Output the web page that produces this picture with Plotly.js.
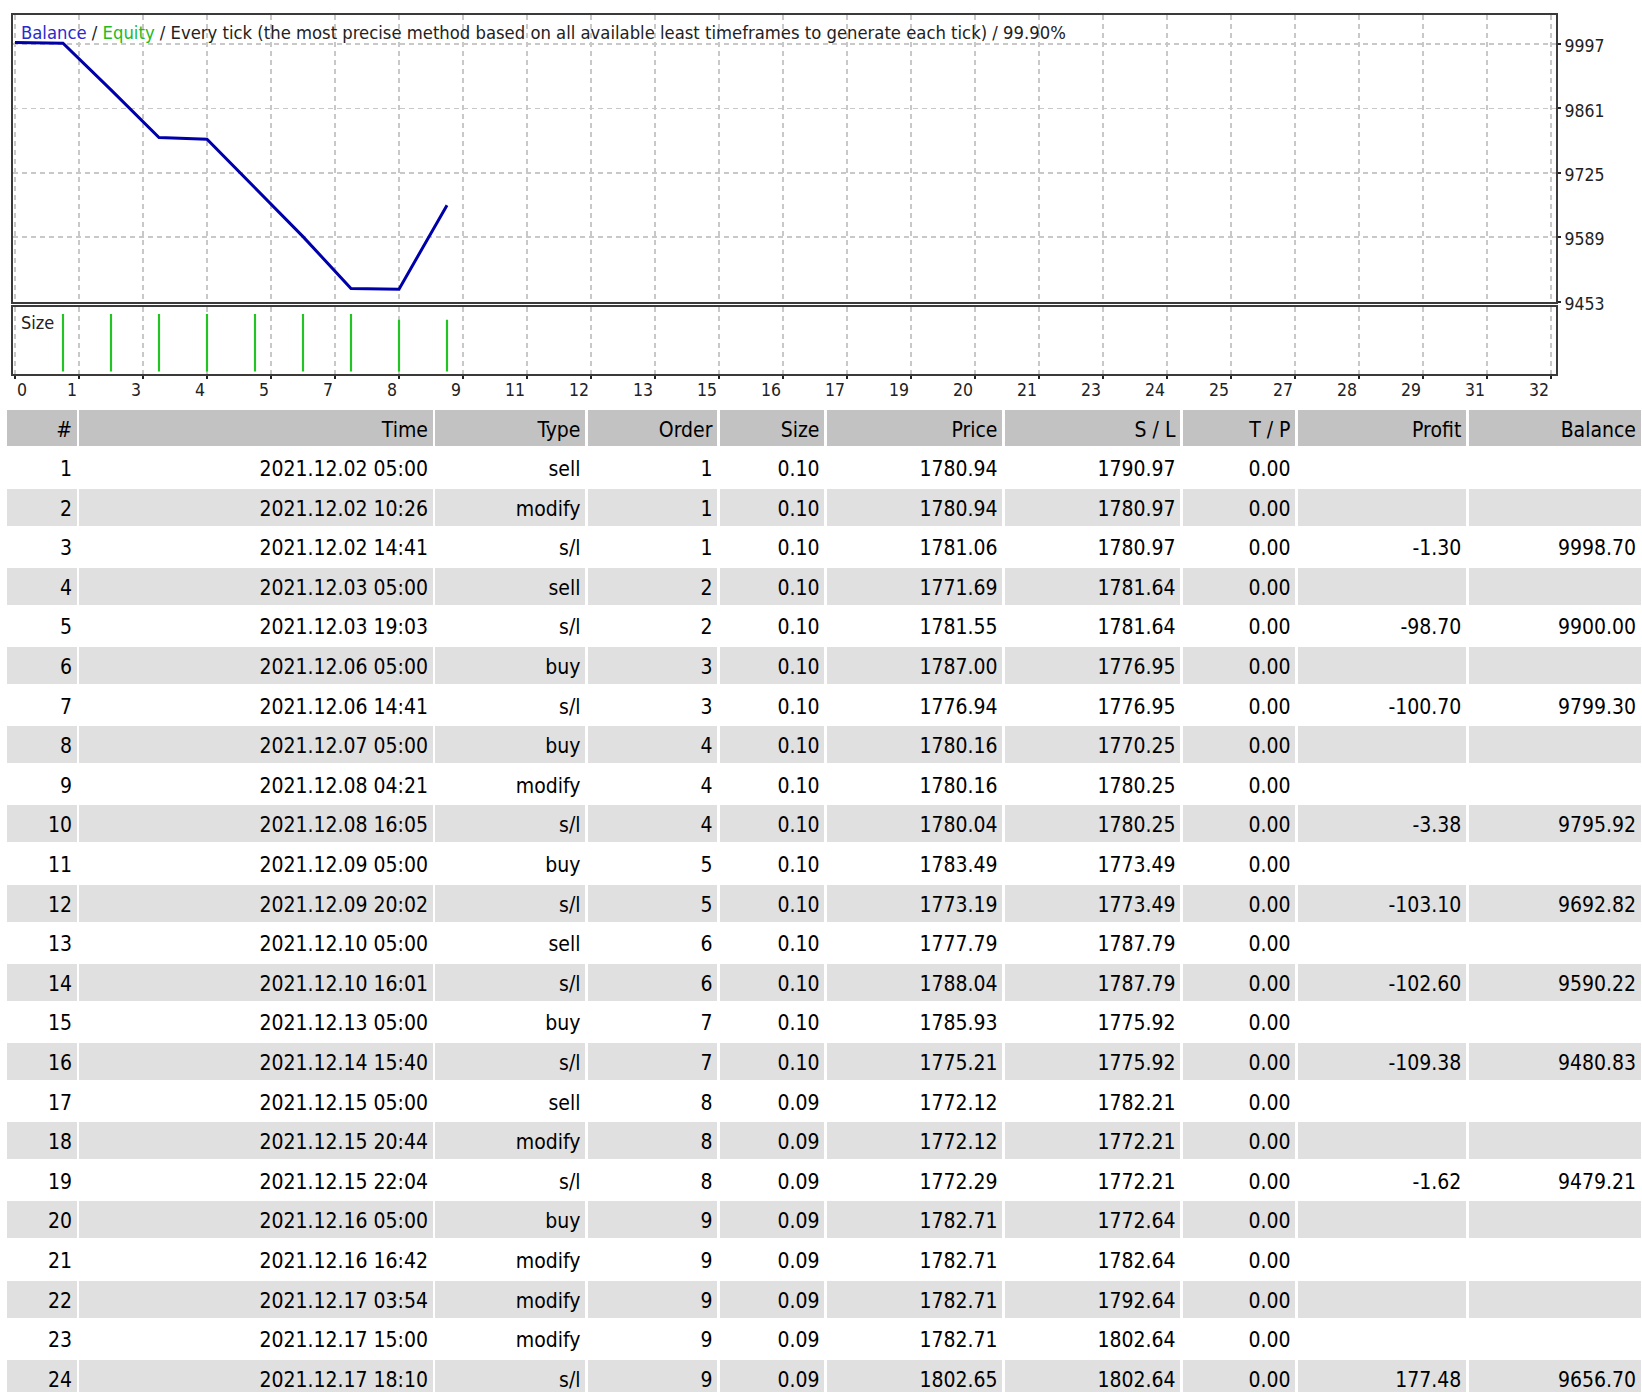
<!DOCTYPE html>
<html>
<head>
<meta charset="utf-8">
<script src="https://cdn.plot.ly/plotly-3.0.1.min.js"></script>
<style>
html,body{margin:0;padding:0;overflow:hidden;background:#fff;}
#chart{width:1642px;height:1400px;}
#chart .cell-text{transform:translate(2px,4.5px);}
</style>
</head>
<body>
<div id="chart"></div>
<script>
// ---------- chart data ----------
const tradeIndex = [0, 1, 2, 3, 4, 5, 6, 7, 8, 9];
const balanceCurve = [10000.00, 9998.70, 9900.00, 9799.30, 9795.92, 9692.82, 9590.22, 9480.83, 9479.21, 9656.70];
const sizeTradeNo = [1, 2, 3, 4, 5, 6, 7, 8, 9];
const sizeValues = [0.10, 0.10, 0.10, 0.10, 0.10, 0.10, 0.10, 0.09, 0.09];
const yTickVals = [9453, 9589, 9725, 9861, 9997];
const xTickLabels = ['0','1','3','4','5','7','8','9','11','12','13','15','16','17','19','20','21','23','24','25','27','28','29','31','32'];
const xTickStep = 4 / 3;

// ---------- table data ----------
const tblHeader = ['#', 'Time', 'Type', 'Order', 'Size', 'Price', 'S / L', 'T / P', 'Profit', 'Balance'];
const colNo = ['1','2','3','4','5','6','7','8','9','10','11','12','13','14','15','16','17','18','19','20','21','22','23','24'];
const colTime = ['2021.12.02 05:00','2021.12.02 10:26','2021.12.02 14:41','2021.12.03 05:00','2021.12.03 19:03','2021.12.06 05:00','2021.12.06 14:41','2021.12.07 05:00','2021.12.08 04:21','2021.12.08 16:05','2021.12.09 05:00','2021.12.09 20:02','2021.12.10 05:00','2021.12.10 16:01','2021.12.13 05:00','2021.12.14 15:40','2021.12.15 05:00','2021.12.15 20:44','2021.12.15 22:04','2021.12.16 05:00','2021.12.16 16:42','2021.12.17 03:54','2021.12.17 15:00','2021.12.17 18:10'];
const colType = ['sell','modify','s/l','sell','s/l','buy','s/l','buy','modify','s/l','buy','s/l','sell','s/l','buy','s/l','sell','modify','s/l','buy','modify','modify','modify','s/l'];
const colOrder = ['1','1','1','2','2','3','3','4','4','4','5','5','6','6','7','7','8','8','8','9','9','9','9','9'];
const colSize = ['0.10','0.10','0.10','0.10','0.10','0.10','0.10','0.10','0.10','0.10','0.10','0.10','0.10','0.10','0.10','0.10','0.09','0.09','0.09','0.09','0.09','0.09','0.09','0.09'];
const colPrice = ['1780.94','1780.94','1781.06','1771.69','1781.55','1787.00','1776.94','1780.16','1780.16','1780.04','1783.49','1773.19','1777.79','1788.04','1785.93','1775.21','1772.12','1772.12','1772.29','1782.71','1782.71','1782.71','1782.71','1802.65'];
const colSL = ['1790.97','1780.97','1780.97','1781.64','1781.64','1776.95','1776.95','1770.25','1780.25','1780.25','1773.49','1773.49','1787.79','1787.79','1775.92','1775.92','1782.21','1772.21','1772.21','1772.64','1782.64','1792.64','1802.64','1802.64'];
const colTP = ['0.00','0.00','0.00','0.00','0.00','0.00','0.00','0.00','0.00','0.00','0.00','0.00','0.00','0.00','0.00','0.00','0.00','0.00','0.00','0.00','0.00','0.00','0.00','0.00'];
const colProfit = ['','','-1.30','','-98.70','','-100.70','','','-3.38','','-103.10','','-102.60','','-109.38','','','-1.62','','','','','177.48'];
const colBalance = ['','','9998.70','','9900.00','','9799.30','','','9795.92','','9692.82','','9590.22','','9480.83','','','9479.21','','','','','9656.70'];

// ---------- layout helpers ----------
const W = 1642, H = 1400;
const px = v => v / W;
const py = v => 1 - v / H;
const FONT = '"DejaVu Sans Condensed", Tahoma, "DejaVu Sans", sans-serif';
const gridColor = '#c8c8c8';
const frameColor = '#3a3a3a';

const xTickVals = xTickLabels.map((_, k) => k * xTickStep);

const traces = [
  {
    type: 'scatter', mode: 'lines', x: tradeIndex, y: balanceCurve,
    xaxis: 'x', yaxis: 'y',
    line: {color: '#0000aa', width: 3}, hoverinfo: 'skip'
  },
  {
    type: 'bar', x: sizeTradeNo, y: sizeValues, xaxis: 'x2', yaxis: 'y2',
    width: 0.045, marker: {color: '#22c322', line: {width: 0}}, hoverinfo: 'skip'
  },
  {
    type: 'table',
    domain: {x: [px(6), 1], y: [0, py(409)]},
    columnwidth: [72, 356, 152.5, 132, 107, 178, 178, 115, 170.8, 174.7],
    header: {
      values: tblHeader,
      align: 'right', height: 38.7,
      fill: {color: '#c2c2c2'},
      line: {color: '#ffffff', width: 2.5},
      font: {family: FONT, size: 21, color: '#000'}
    },
    cells: {
      values: [colNo, colTime, colType, colOrder, colSize, colPrice, colSL, colTP, colProfit, colBalance],
      align: 'right', height: 39.6,
      fill: {color: [colNo.map((_, i) => i % 2 === 0 ? '#ffffff' : '#e0e0e0')]},
      line: {color: '#ffffff', width: 2.5},
      font: {family: FONT, size: 21, color: '#000'}
    }
  }
];

const annotations = xTickLabels.map((t, k) => ({
  text: t, xref: 'x2', yref: 'paper', x: xTickVals[k], y: py(390),
  xanchor: k === 0 ? 'left' : 'right', yanchor: 'middle', showarrow: false,
  font: {family: FONT, size: 17.5, color: '#222'}
}));
annotations.push({
  text: '<span style="color:#2a2acc">Balance</span> / <span style="color:#22bb22">Equity</span> / Every tick (the most precise method based on all available least timeframes to generate each tick) / 99.90%',
  xref: 'paper', yref: 'paper', x: px(19), y: py(32), xanchor: 'left', yanchor: 'middle',
  showarrow: false, font: {family: FONT, size: 18.3, color: '#222'}
});
annotations.push({
  text: 'Size', xref: 'paper', yref: 'paper', x: px(19), y: py(323), xanchor: 'left', yanchor: 'middle',
  showarrow: false, font: {family: FONT, size: 18, color: '#222'}
});

const xRange = [-0.0354, 32.104];
const xCommon = {
  range: xRange, tickvals: xTickVals, showticklabels: false,
  showgrid: true, gridcolor: gridColor, gridwidth: 1.5, griddash: '5px,4px',
  showline: true, mirror: true, linecolor: frameColor, linewidth: 2,
  zeroline: false, fixedrange: true, domain: [px(13.3), px(1556)]
};

const layout = {
  width: W, height: H,
  margin: {l: 0, r: 0, t: 0, b: 0},
  paper_bgcolor: '#fff', plot_bgcolor: '#fff',
  showlegend: false, hovermode: false,
  xaxis: Object.assign({}, xCommon, {anchor: 'y', ticks: ''}),
  xaxis2: Object.assign({}, xCommon, {anchor: 'y2', matches: 'x', ticks: 'outside', ticklen: 3, tickwidth: 2, tickcolor: '#222'}),
  yaxis: {
    domain: [py(301.6), py(15.3)], range: [9453, 10057.6],
    side: 'right', tickvals: yTickVals, tickformat: 'd', ticklabelshift: 2,
    ticks: 'outside', ticklen: 3, tickwidth: 2, tickcolor: '#222',
    tickfont: {family: FONT, size: 17.5, color: '#222'},
    showgrid: true, gridcolor: gridColor, gridwidth: 1.5, griddash: '5px,4px',
    showline: true, mirror: true, linecolor: frameColor, linewidth: 2,
    zeroline: false, fixedrange: true, anchor: 'x'
  },
  yaxis2: {
    domain: [py(374.3), py(307)], range: [-0.005, 0.112],
    showticklabels: false, ticks: '', showgrid: false,
    showline: true, mirror: true, linecolor: frameColor, linewidth: 2,
    zeroline: false, fixedrange: true, anchor: 'x2'
  },
  annotations: annotations
};

Plotly.newPlot('chart', traces, layout, {staticPlot: true, displayModeBar: false});
</script>
</body>
</html>
